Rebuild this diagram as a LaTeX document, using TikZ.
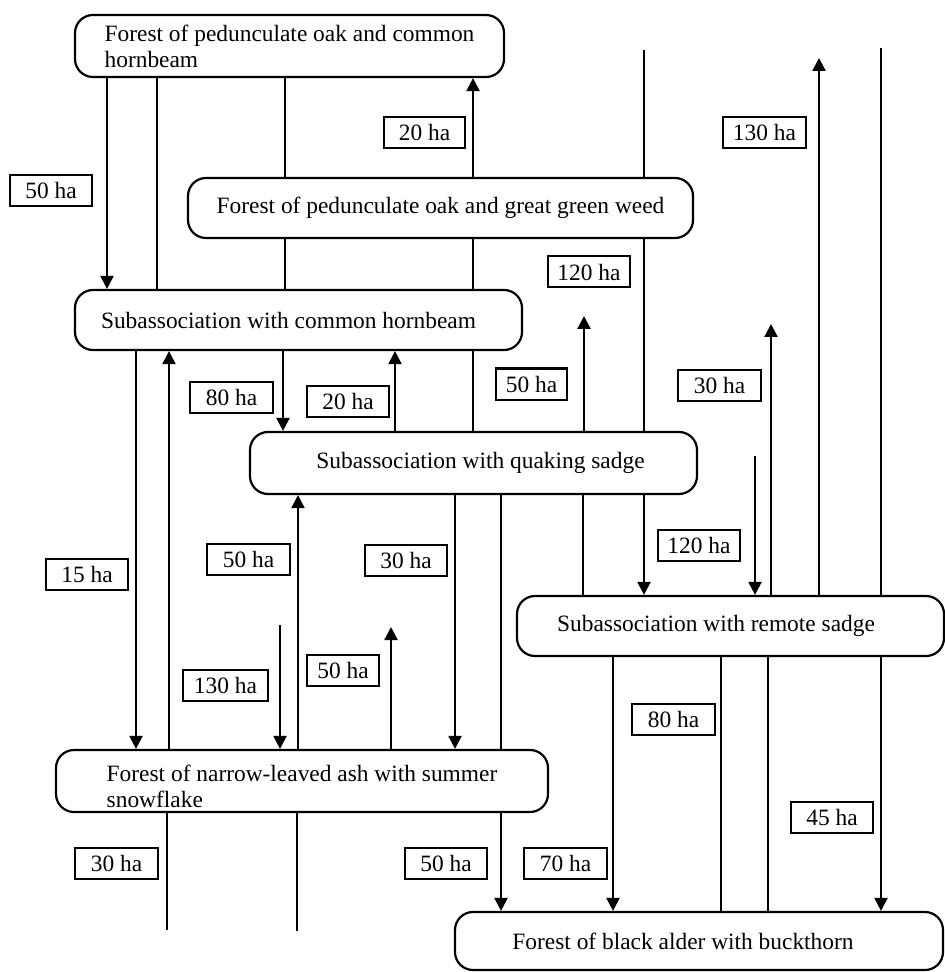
\documentclass[tikz,border=0pt]{standalone}
\usepackage{fontspec}
\setmainfont{Liberation Serif}
\usetikzlibrary{arrows.meta}
\newcommand\fs{\fontsize{11.7pt}{13pt}\selectfont}
\begin{document}
\begin{tikzpicture}[x=0.5pt,y=-0.5pt,
  state/.style={draw, line width=1.1pt, rounded corners=9pt, inner sep=0pt, font=\fs, align=left},
  lab/.style={draw, line width=1pt, fill=white, inner sep=0pt, minimum height=15.5pt, font=\fs},
  flow/.style={line width=1.1pt, -{Triangle[length=6.5pt,width=6.5pt]}},
  plain/.style={line width=1.1pt}]
\useasboundingbox (0,0) rectangle (945,972);
% states
\node[state, minimum width=214.5pt, minimum height=31pt] (n1) at (289.5,46) {Forest of pedunculate oak and common\\hornbeam};
\node[state, minimum width=252.5pt, minimum height=30pt] (n2) at (440.5,208) {Forest of pedunculate oak and great green weed};
\node[state, minimum width=223.5pt, minimum height=30pt] (n3) at (298.5,320) {Subassociation with common hornbeam\hspace{10pt}};
\node[state, minimum width=223.5pt, minimum height=31pt] (n4) at (473.5,463) {\hspace*{7pt}Subassociation with quaking sadge};
\node[state, minimum width=213.5pt, minimum height=30pt] (n5) at (730.5,626) {Subassociation with remote sadge\hspace{14.5pt}};
\node[state, minimum width=246pt, minimum height=31pt] (n6) at (302,781) {\rule{0pt}{13.5pt}Forest of narrow-leaved ash with summer\hspace{15pt}\\snowflake};
\node[state, minimum width=244pt, minimum height=29pt] (n7) at (699,941) {Forest of black alder with buckthorn\hspace{16pt}};
% x positions
\foreach \x in {107,157,285,473,136,169,283,395,298,455,501,583,613,721,768}
  \coordinate (x\x) at (\x,0);
% free ends
\coordinate (t644) at (644,50);
\coordinate (t819) at (819,58);
\coordinate (t881) at (881,48);
\coordinate (t584) at (584,316);
\coordinate (t771) at (771,324);
\coordinate (t755) at (755,456);
\coordinate (t280) at (280,625);
\coordinate (t391) at (391,627);
\coordinate (b167) at (167,930);
\coordinate (b297) at (297,931);
% connectors
\draw[flow] (n1.south -| x107) -- (n3.north -| x107);
\draw[plain] (n1.south -| x157) -- (n3.north -| x157);
\draw[plain] (n1.south -| x285) -- (n2.north -| x285);
\draw[plain] (n2.south -| x285) -- (n3.north -| x285);
\draw[flow] (n2.north -| x473) -- (n1.south -| x473);
\draw[plain] (n3.north -| x473) -- (n2.south -| x473);
\draw[plain] (n4.north -| x473) -- (n3.south -| x473);
\draw[plain] (t644) -- (n2.north -| t644);
\draw[plain] (n2.south -| t644) -- (n4.north -| t644);
\draw[flow] (n4.south -| t644) -- (n5.north -| t644);
\draw[flow] (n5.north -| t819) -- (t819);
\draw[plain] (t881) -- (n5.north -| t881);
\draw[flow] (n5.south -| t881) -- (n7.north -| t881);
\draw[flow] (n4.north -| t584) -- (t584);
\draw[flow] (n5.north -| t771) -- (t771);
\draw[flow] (t755) -- (n5.north -| t755);
\draw[flow] (n3.south -| x136) -- (n6.north -| x136);
\draw[flow] (n6.north -| x169) -- (n3.south -| x169);
\draw[plain] (n6.south -| b167) -- (b167);
\draw[flow] (n3.south -| x283) -- (n4.north -| x283);
\draw[flow] (n4.north -| x395) -- (n3.south -| x395);
\draw[flow] (n6.north -| x298) -- (n4.south -| x298);
\draw[plain] (n6.south -| b297) -- (b297);
\draw[flow] (t280) -- (n6.north -| t280);
\draw[flow] (n6.north -| t391) -- (t391);
\draw[flow] (n4.south -| x455) -- (n6.north -| x455);
\draw[plain] (n4.south -| x501) -- (n6.north -| x501);
\draw[flow] (n6.south -| x501) -- (n7.north -| x501);
\draw[plain] (n4.south -| x583) -- (n5.north -| x583);
\draw[flow] (n5.south -| x613) -- (n7.north -| x613);
\draw[plain] (n5.south -| x721) -- (n7.north -| x721);
\draw[plain] (n5.south -| x768) -- (n7.north -| x768);
% labels
\node[lab, minimum width=41pt] (l1) at (51,191) {50 ha};
\node[lab, minimum width=40.5pt] (l2) at (424.5,132.5) {20 ha};
\node[lab, minimum width=41.5pt] (l3) at (764.5,132.5) {130 ha};
\node[lab, minimum width=41pt] (l4) at (589,272) {120 ha};
\node[lab, minimum width=41.5pt] (l5) at (231.5,397.5) {80 ha};
\node[lab, minimum width=41pt] (l6) at (348,401.5) {20 ha};
\node[lab, minimum width=35.5pt] (l7) at (531.5,384) {50 ha};
\node[lab, minimum width=41.5pt] (l8) at (719.5,385.5) {30 ha};
\node[lab, minimum width=41pt] (l9) at (87,574) {15 ha};
\node[lab, minimum width=41.5pt] (l10) at (248.5,559) {50 ha};
\node[lab, minimum width=41pt] (l11) at (406,560) {30 ha};
\node[lab, minimum width=41pt] (l12) at (699,545) {120 ha};
\node[lab, minimum width=42.5pt] (l13) at (225.5,685.5) {130 ha};
\node[lab, minimum width=36pt] (l14) at (343,670) {50 ha};
\node[lab, minimum width=41.5pt] (l15) at (673.5,719) {80 ha};
\node[lab, minimum width=41pt] (l16) at (832,817.5) {45 ha};
\node[lab, minimum width=41.5pt] (l17) at (116.5,863) {30 ha};
\node[lab, minimum width=41pt] (l18) at (446,863) {50 ha};
\node[lab, minimum width=41.5pt] (l19) at (565.5,863) {70 ha};
\end{tikzpicture}
\end{document}
